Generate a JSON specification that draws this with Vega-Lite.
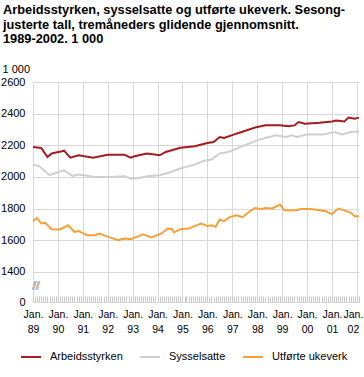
{
  "$schema": "https://vega.github.io/schema/vega-lite/v6.json",
  "width": 326,
  "height": 220,
  "autosize": {"type": "none"},
  "padding": {"left": 33, "top": 82, "right": 5, "bottom": 75},
  "config": {
    "font": "Liberation Sans",
    "view": {"stroke": null},
    "axis": {"labelFont": "Liberation Sans", "labelFontSize": 11, "labelColor": "#000000", "titleFont": "Liberation Sans"},
    "axisY": {"labelOverlap": false},
    "legend": {"labelFont": "Liberation Sans"}
  },
  "title": {
    "text": ["Arbeidsstyrken, sysselsatte og utførte ukeverk. Sesong-", "justerte tall, tremåneders glidende gjennomsnitt.", "1989-2002. 1 000"],
    "anchor": "start",
    "frame": "group",
    "font": "Liberation Sans",
    "fontSize": 12.8,
    "fontWeight": "bold",
    "color": "#000000",
    "lineHeight": 14.5,
    "dx": -30,
    "offset": 17
  },
  "data": {
    "values": [
      {"d": "1989-01-01", "s": "Arbeidsstyrken", "v": 2189},
      {"d": "1989-05-01", "s": "Arbeidsstyrken", "v": 2183},
      {"d": "1989-08-01", "s": "Arbeidsstyrken", "v": 2126},
      {"d": "1989-10-01", "s": "Arbeidsstyrken", "v": 2148},
      {"d": "1990-03-01", "s": "Arbeidsstyrken", "v": 2162},
      {"d": "1990-04-01", "s": "Arbeidsstyrken", "v": 2166},
      {"d": "1990-07-01", "s": "Arbeidsstyrken", "v": 2122},
      {"d": "1990-11-01", "s": "Arbeidsstyrken", "v": 2137},
      {"d": "1991-06-01", "s": "Arbeidsstyrken", "v": 2122},
      {"d": "1992-01-01", "s": "Arbeidsstyrken", "v": 2141},
      {"d": "1992-09-01", "s": "Arbeidsstyrken", "v": 2141},
      {"d": "1992-12-01", "s": "Arbeidsstyrken", "v": 2122},
      {"d": "1993-02-01", "s": "Arbeidsstyrken", "v": 2131},
      {"d": "1993-04-01", "s": "Arbeidsstyrken", "v": 2137},
      {"d": "1993-08-01", "s": "Arbeidsstyrken", "v": 2148},
      {"d": "1994-02-01", "s": "Arbeidsstyrken", "v": 2137},
      {"d": "1994-05-01", "s": "Arbeidsstyrken", "v": 2158},
      {"d": "1994-12-01", "s": "Arbeidsstyrken", "v": 2185},
      {"d": "1995-07-01", "s": "Arbeidsstyrken", "v": 2194},
      {"d": "1996-01-01", "s": "Arbeidsstyrken", "v": 2215},
      {"d": "1996-04-01", "s": "Arbeidsstyrken", "v": 2221},
      {"d": "1996-07-01", "s": "Arbeidsstyrken", "v": 2252},
      {"d": "1996-09-01", "s": "Arbeidsstyrken", "v": 2246},
      {"d": "1997-02-01", "s": "Arbeidsstyrken", "v": 2269},
      {"d": "1997-04-01", "s": "Arbeidsstyrken", "v": 2278},
      {"d": "1997-07-01", "s": "Arbeidsstyrken", "v": 2290},
      {"d": "1997-12-01", "s": "Arbeidsstyrken", "v": 2312},
      {"d": "1998-05-01", "s": "Arbeidsstyrken", "v": 2326},
      {"d": "1998-12-01", "s": "Arbeidsstyrken", "v": 2326},
      {"d": "1999-04-01", "s": "Arbeidsstyrken", "v": 2320},
      {"d": "1999-07-01", "s": "Arbeidsstyrken", "v": 2326},
      {"d": "1999-09-01", "s": "Arbeidsstyrken", "v": 2347},
      {"d": "1999-12-01", "s": "Arbeidsstyrken", "v": 2337},
      {"d": "2000-07-01", "s": "Arbeidsstyrken", "v": 2343},
      {"d": "2001-01-01", "s": "Arbeidsstyrken", "v": 2351},
      {"d": "2001-03-01", "s": "Arbeidsstyrken", "v": 2357},
      {"d": "2001-07-01", "s": "Arbeidsstyrken", "v": 2351},
      {"d": "2001-09-01", "s": "Arbeidsstyrken", "v": 2375},
      {"d": "2001-12-01", "s": "Arbeidsstyrken", "v": 2368},
      {"d": "2002-02-01", "s": "Arbeidsstyrken", "v": 2375},

      {"d": "1989-01-01", "s": "Sysselsatte", "v": 2078},
      {"d": "1989-04-01", "s": "Sysselsatte", "v": 2069},
      {"d": "1989-09-01", "s": "Sysselsatte", "v": 2011},
      {"d": "1989-12-01", "s": "Sysselsatte", "v": 2025},
      {"d": "1990-04-01", "s": "Sysselsatte", "v": 2042},
      {"d": "1990-08-01", "s": "Sysselsatte", "v": 2006},
      {"d": "1990-11-01", "s": "Sysselsatte", "v": 2015},
      {"d": "1991-07-01", "s": "Sysselsatte", "v": 2000},
      {"d": "1992-03-01", "s": "Sysselsatte", "v": 2000},
      {"d": "1992-09-01", "s": "Sysselsatte", "v": 2004},
      {"d": "1992-12-01", "s": "Sysselsatte", "v": 1990},
      {"d": "1993-02-01", "s": "Sysselsatte", "v": 1990},
      {"d": "1993-04-01", "s": "Sysselsatte", "v": 1994},
      {"d": "1993-08-01", "s": "Sysselsatte", "v": 2004},
      {"d": "1994-02-01", "s": "Sysselsatte", "v": 2011},
      {"d": "1994-06-01", "s": "Sysselsatte", "v": 2025},
      {"d": "1994-12-01", "s": "Sysselsatte", "v": 2053},
      {"d": "1995-07-01", "s": "Sysselsatte", "v": 2078},
      {"d": "1995-11-01", "s": "Sysselsatte", "v": 2101},
      {"d": "1996-03-01", "s": "Sysselsatte", "v": 2110},
      {"d": "1996-07-01", "s": "Sysselsatte", "v": 2148},
      {"d": "1996-11-01", "s": "Sysselsatte", "v": 2158},
      {"d": "1997-02-01", "s": "Sysselsatte", "v": 2173},
      {"d": "1997-04-01", "s": "Sysselsatte", "v": 2185},
      {"d": "1997-07-01", "s": "Sysselsatte", "v": 2200},
      {"d": "1998-02-01", "s": "Sysselsatte", "v": 2236},
      {"d": "1998-10-01", "s": "Sysselsatte", "v": 2263},
      {"d": "1999-03-01", "s": "Sysselsatte", "v": 2252},
      {"d": "1999-06-01", "s": "Sysselsatte", "v": 2263},
      {"d": "1999-08-01", "s": "Sysselsatte", "v": 2252},
      {"d": "2000-01-01", "s": "Sysselsatte", "v": 2269},
      {"d": "2000-09-01", "s": "Sysselsatte", "v": 2269},
      {"d": "2001-02-01", "s": "Sysselsatte", "v": 2284},
      {"d": "2001-06-01", "s": "Sysselsatte", "v": 2269},
      {"d": "2001-10-01", "s": "Sysselsatte", "v": 2284},
      {"d": "2002-02-01", "s": "Sysselsatte", "v": 2288},

      {"d": "1989-01-01", "s": "Utførte ukeverk", "v": 1722},
      {"d": "1989-03-01", "s": "Utførte ukeverk", "v": 1741},
      {"d": "1989-05-01", "s": "Utførte ukeverk", "v": 1706},
      {"d": "1989-07-01", "s": "Utførte ukeverk", "v": 1710},
      {"d": "1989-10-01", "s": "Utførte ukeverk", "v": 1670},
      {"d": "1990-02-01", "s": "Utførte ukeverk", "v": 1668},
      {"d": "1990-06-01", "s": "Utførte ukeverk", "v": 1695},
      {"d": "1990-09-01", "s": "Utførte ukeverk", "v": 1653},
      {"d": "1990-11-01", "s": "Utførte ukeverk", "v": 1659},
      {"d": "1991-03-01", "s": "Utførte ukeverk", "v": 1632},
      {"d": "1991-07-01", "s": "Utførte ukeverk", "v": 1632},
      {"d": "1991-09-01", "s": "Utførte ukeverk", "v": 1643},
      {"d": "1992-02-01", "s": "Utførte ukeverk", "v": 1618},
      {"d": "1992-06-01", "s": "Utførte ukeverk", "v": 1601},
      {"d": "1992-09-01", "s": "Utførte ukeverk", "v": 1611},
      {"d": "1992-12-01", "s": "Utførte ukeverk", "v": 1607},
      {"d": "1993-02-01", "s": "Utførte ukeverk", "v": 1618},
      {"d": "1993-04-01", "s": "Utførte ukeverk", "v": 1626},
      {"d": "1993-06-01", "s": "Utførte ukeverk", "v": 1637},
      {"d": "1993-10-01", "s": "Utførte ukeverk", "v": 1618},
      {"d": "1994-03-01", "s": "Utførte ukeverk", "v": 1643},
      {"d": "1994-06-01", "s": "Utførte ukeverk", "v": 1674},
      {"d": "1994-08-01", "s": "Utførte ukeverk", "v": 1670},
      {"d": "1994-09-01", "s": "Utførte ukeverk", "v": 1649},
      {"d": "1994-12-01", "s": "Utførte ukeverk", "v": 1670},
      {"d": "1995-04-01", "s": "Utførte ukeverk", "v": 1674},
      {"d": "1995-10-01", "s": "Utførte ukeverk", "v": 1706},
      {"d": "1996-01-01", "s": "Utførte ukeverk", "v": 1691},
      {"d": "1996-03-01", "s": "Utførte ukeverk", "v": 1695},
      {"d": "1996-05-01", "s": "Utførte ukeverk", "v": 1685},
      {"d": "1996-07-01", "s": "Utførte ukeverk", "v": 1731},
      {"d": "1996-09-01", "s": "Utførte ukeverk", "v": 1721},
      {"d": "1996-12-01", "s": "Utførte ukeverk", "v": 1748},
      {"d": "1997-03-01", "s": "Utførte ukeverk", "v": 1758},
      {"d": "1997-06-01", "s": "Utførte ukeverk", "v": 1746},
      {"d": "1997-09-01", "s": "Utførte ukeverk", "v": 1779},
      {"d": "1997-12-01", "s": "Utførte ukeverk", "v": 1804},
      {"d": "1998-03-01", "s": "Utførte ukeverk", "v": 1796},
      {"d": "1998-05-01", "s": "Utførte ukeverk", "v": 1804},
      {"d": "1998-08-01", "s": "Utførte ukeverk", "v": 1800},
      {"d": "1998-12-01", "s": "Utførte ukeverk", "v": 1826},
      {"d": "1999-02-01", "s": "Utførte ukeverk", "v": 1790},
      {"d": "1999-08-01", "s": "Utførte ukeverk", "v": 1790},
      {"d": "1999-10-01", "s": "Utførte ukeverk", "v": 1798},
      {"d": "2000-03-01", "s": "Utførte ukeverk", "v": 1798},
      {"d": "2000-07-01", "s": "Utførte ukeverk", "v": 1790},
      {"d": "2000-10-01", "s": "Utførte ukeverk", "v": 1784},
      {"d": "2001-01-01", "s": "Utførte ukeverk", "v": 1765},
      {"d": "2001-04-01", "s": "Utførte ukeverk", "v": 1800},
      {"d": "2001-08-01", "s": "Utførte ukeverk", "v": 1784},
      {"d": "2001-10-01", "s": "Utførte ukeverk", "v": 1775},
      {"d": "2001-12-01", "s": "Utførte ukeverk", "v": 1752},
      {"d": "2002-02-01", "s": "Utførte ukeverk", "v": 1752}
    ]
  },
  "layer": [
    {
      "mark": {"type": "line", "strokeWidth": 2, "interpolate": "linear"},
      "encoding": {
        "x": {
          "field": "d", "type": "temporal",
          "scale": {"domain": [{"year": 1989, "month": 1, "date": 1}, {"year": 2002, "month": 2, "date": 1}], "nice": false},
          "axis": {
            "orient": "bottom",
            "title": null,
            "tickCount": {"interval": "year", "step": 1},
            "grid": true, "gridColor": "#d9d9d9", "gridWidth": 1,
            "ticks": false, "domain": false,
            "labelExpr": "['Jan.', timeFormat(datum.value, '%y')]",
            "labelFontSize": 10.5,
            "labelPadding": 7, "labelLineHeight": 15, "labelBaseline": "top",
            "labelOverlap": false, "labelFlush": false,
            "labelOffset": {"condition": {"test": "year(datum.value) >= 2002", "value": -4}, "value": 0}
          }
        },
        "y": {
          "field": "v", "type": "quantitative",
          "scale": {"domain": [1210, 2600], "nice": false, "zero": false},
          "axis": {
            "orient": "left",
            "values": [1210, 1400, 1600, 1800, 2000, 2200, 2400, 2600],
            "labelExpr": "datum.value < 1300 ? '0' : format(datum.value, 'd')",
            "labelOverlap": false,
            "title": "1 000", "titleAngle": 0, "titleAlign": "left", "titleBaseline": "alphabetic",
            "titleX": -31, "titleY": -10, "titleFontSize": 11, "titleFontWeight": "normal", "titleColor": "#000000",
            "grid": true, "gridColor": "#d9d9d9", "gridWidth": 1,
            "ticks": false, "domain": false, "labelPadding": 8
          }
        },
        "color": {
          "field": "s", "type": "nominal",
          "scale": {"domain": ["Arbeidsstyrken", "Sysselsatte", "Utførte ukeverk"], "range": ["#a51b1e", "#cfcfcf", "#f7a03a"]},
          "legend": {
            "title": null, "orient": "none", "direction": "horizontal",
            "legendX": -13, "legendY": 264,
            "symbolType": "stroke", "symbolStrokeWidth": 2, "symbolSize": 400,
            "labelFontSize": 11, "labelColor": "#000000", "labelOffset": 8, "columnPadding": 13
          }
        }
      }
    },
    {
      "mark": {"type": "text", "text": "//", "fontSize": 13, "color": "#bdbdbd", "dx": 3},
      "encoding": {
        "x": {
          "datum": {"year": 1989, "month": 1, "date": 1}, "type": "temporal",
          "axis": {
            "orient": "bottom", "title": null, "labels": false, "grid": false, "domain": false,
            "tickCount": {"interval": "month", "step": 1},
            "ticks": true, "tickSize": 6, "tickColor": "#c8c8c8", "tickWidth": 1, "offset": -6
          }
        },
        "y": {"datum": 1310, "type": "quantitative", "axis": null}
      }
    }
  ],
  "resolve": {"axis": {"x": "independent", "y": "independent"}}
}
